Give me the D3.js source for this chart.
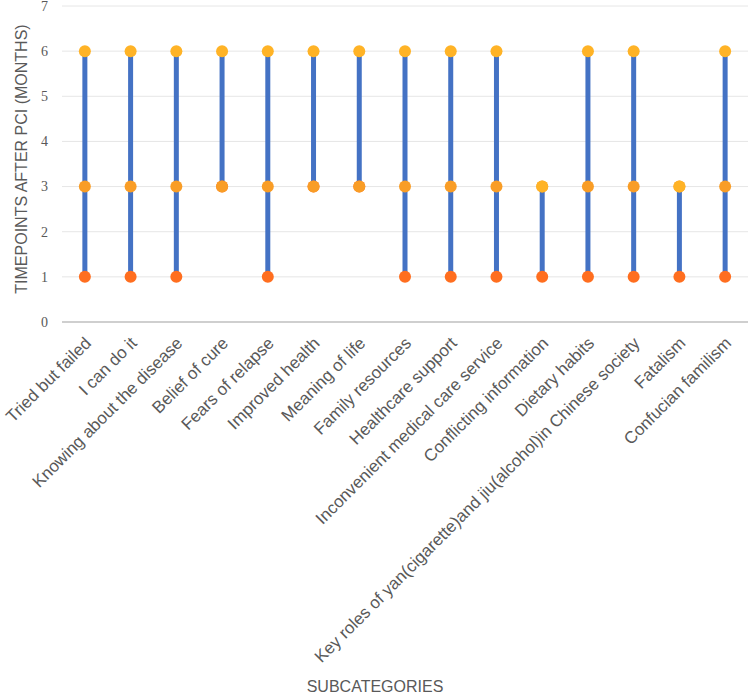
<!DOCTYPE html>
<html><head><meta charset="utf-8">
<script src="https://cdn.jsdelivr.net/npm/d3@7"></script>
<style>body{margin:0;background:#fff}</style>
</head><body><svg id="c" width="750" height="695"></svg>
<script>
const categories = ["Tried but failed","I can do it","Knowing about the disease","Belief of cure","Fears of relapse","Improved health","Meaning of life","Family resources","Healthcare support","Inconvenient medical care service","Conflicting information","Dietary habits","Key roles of yan(cigarette)and jiu(alcohol)in Chinese society","Fatalism","Confucian familism"];
const highVals  = [6,6,6,6,6,6,6,6,6,6,3,6,6,3,6];
const lowVals   = [1,1,1,3,1,3,3,1,1,1,1,1,1,1,1];
const closeVals = [3,3,3,3,3,3,3,3,3,3,3,3,3,3,3];
const yTicks = [0,1,2,3,4,5,6,7];

const svg = d3.select("#c");
const x = d3.scaleBand().domain(categories).range([62,748]).padding(0);
const y = d3.scaleLinear().domain([0,7]).range([322,6]);

// gridlines
svg.append("g").selectAll("line").data(yTicks.filter(d=>d>0)).join("line")
  .attr("x1",62).attr("x2",748).attr("y1",d=>y(d)).attr("y2",d=>y(d))
  .attr("stroke","#E6E6E6").attr("stroke-width",1);
// axis line
svg.append("line").attr("x1",62).attr("x2",748).attr("y1",y(0)).attr("y2",y(0))
  .attr("stroke","#BFBFBF").attr("stroke-width",1.3);

// y tick labels
svg.append("g").selectAll("text").data(yTicks).join("text")
  .attr("x",48).attr("y",d=>y(d)).attr("dy","0.35em").attr("text-anchor","end")
  .attr("font-family","Liberation Serif, Times New Roman, serif").attr("font-size",14)
  .attr("fill","#595959").text(d=>d);

const cx = d => x(d)+x.bandwidth()/2;
const rows = categories.map((c,i)=>({c,h:highVals[i],l:lowVals[i],cl:closeVals[i]}));

// hi-lo lines
svg.append("g").selectAll("line").data(rows).join("line")
  .attr("x1",d=>cx(d.c)).attr("x2",d=>cx(d.c))
  .attr("y1",d=>y(d.h)).attr("y2",d=>y(d.l))
  .attr("stroke","#4472C4").attr("stroke-width",5);

const r = 6;
svg.append("g").selectAll("circle").data(rows).join("circle")
  .attr("cx",d=>cx(d.c)).attr("cy",d=>y(d.l)).attr("r",r).attr("fill","#FF6E1F");
svg.append("g").selectAll("circle").data(rows).join("circle")
  .attr("cx",d=>cx(d.c)).attr("cy",d=>y(d.cl)).attr("r",r).attr("fill","#F99D26");
svg.append("g").selectAll("circle").data(rows).join("circle")
  .attr("cx",d=>cx(d.c)).attr("cy",d=>y(d.h)).attr("r",r).attr("fill","#FFB326");

// category labels
svg.append("g").selectAll("text").data(categories).join("text")
  .attr("transform",d=>`translate(${cx(d)+3},${340}) rotate(-45)`)
  .attr("text-anchor","end").attr("dy","0.35em")
  .attr("font-family","Liberation Sans, Arial, sans-serif").attr("font-size",17)
  .attr("fill","#595959").text(d=>d);

// axis titles
svg.append("text").attr("x",375).attr("y",692).attr("text-anchor","middle")
  .attr("font-family","Liberation Sans, Arial, sans-serif").attr("font-size",16)
  .attr("fill","#595959").text("SUBCATEGORIES");
svg.append("text").attr("transform",`translate(27,${159}) rotate(-90)`).attr("text-anchor","middle")
  .attr("font-family","Liberation Sans, Arial, sans-serif").attr("font-size",16)
  .attr("fill","#595959").text("TIMEPOINTS AFTER PCI (MONTHS)");
</script></body></html>
